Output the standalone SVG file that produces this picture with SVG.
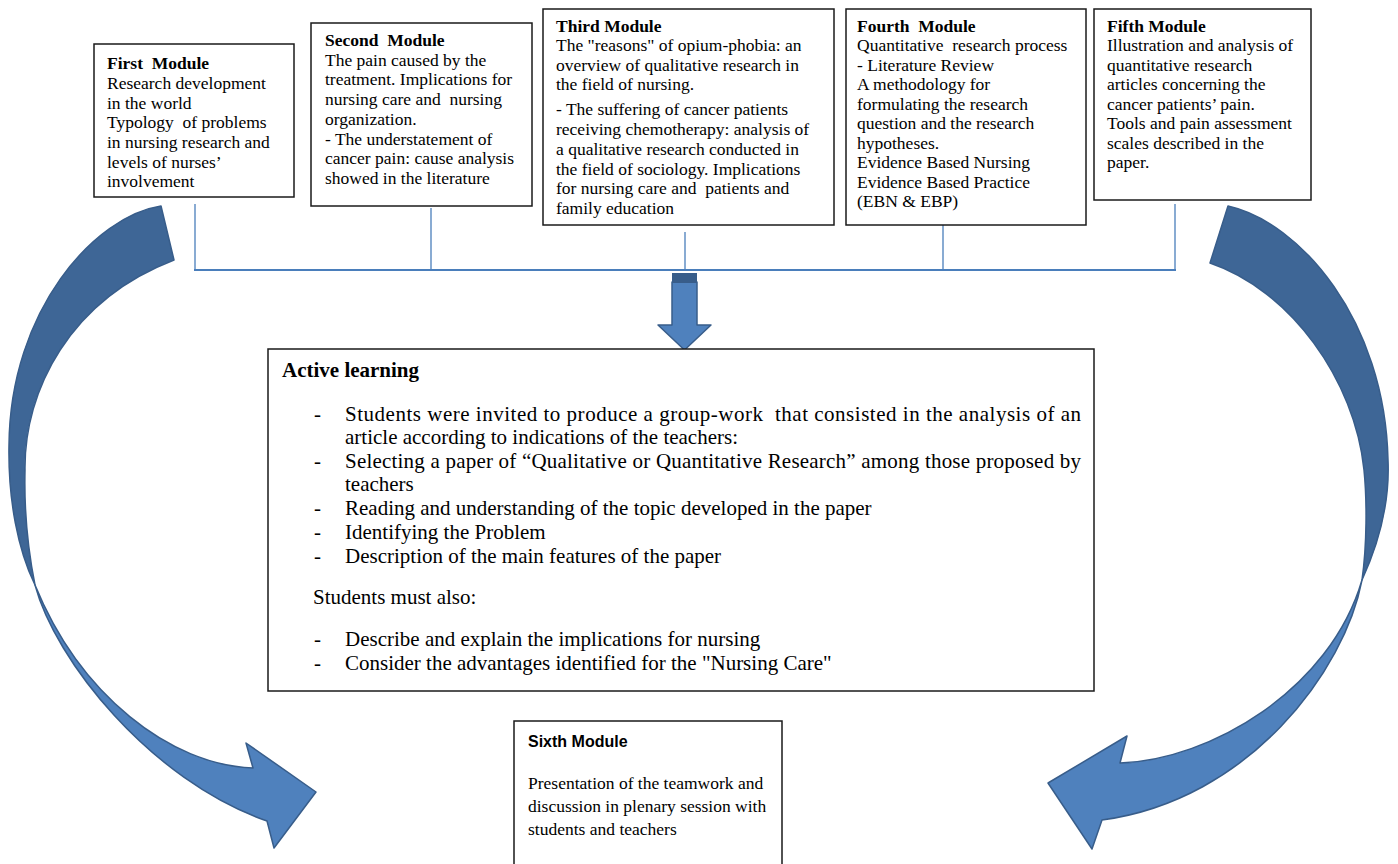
<svg xmlns="http://www.w3.org/2000/svg" width="1398" height="864" viewBox="0 0 1398 864">
<style>
  .box{fill:#fff;stroke:#1a1a1a;stroke-width:1.5}
  .t{font-family:"Liberation Serif","Times New Roman",serif;font-size:17.5px;fill:#000;white-space:pre}
  .b{font-weight:bold}
  .al{font-family:"Liberation Serif","Times New Roman",serif;font-size:21px;fill:#000;white-space:pre}
  .sx{font-family:"Liberation Sans",Arial,sans-serif;font-size:16px;font-weight:bold;fill:#000}
  .ln{stroke:#4a7ebb;stroke-width:1.3;fill:none}
  .dark{fill:#3e6696;stroke:#385d8a;stroke-width:1.5;stroke-linejoin:round}
  .light{fill:#4f81bd;stroke:#385d8a;stroke-width:1.5;stroke-linejoin:round}
</style>
<rect width="1398" height="864" fill="#fff"/>
<g id="connectors">
  <line class="ln" x1="195" y1="204" x2="195" y2="270"/>
  <line class="ln" x1="431" y1="208" x2="431" y2="270"/>
  <line class="ln" x1="685" y1="232" x2="685" y2="270"/>
  <line class="ln" x1="943" y1="204" x2="943" y2="270"/>
  <line class="ln" x1="1175" y1="204" x2="1175" y2="270"/>
  <line class="ln" x1="194" y1="270" x2="1176" y2="270" style="stroke-width:2"/>
  <polygon class="light" points="672,282 697,282 697,325 711,325 684.5,350 658,325 672,325"/>
  <rect x="672" y="273" width="25" height="10" fill="#385d8a"/>
  <g id="left-curved-arrow">
    <path class="dark" d="M161,206 C95,216 10,310 9,445 C8,500 18,550 35,585 C28,550 24,510 25,470 C24,390 70,300 174,260 Z"/>
    <path class="light" d="M35,585 C55,660 150,780 267,821 L274,848 L316,792 L246,743 L253,768 C170,765 80,695 35,585 Z"/>
  </g>
  <g id="right-curved-arrow">
    <path class="dark" d="M1228,206 C1300,222 1385,320 1388,460 C1390,505 1378,545 1362,580 C1367,545 1367,500 1364,470 C1355,380 1290,290 1210,263 Z"/>
    <path class="light" d="M1362,580 C1345,670 1250,800 1102,820 L1092,849 L1048,783 L1127,736 L1120,763 C1210,760 1330,690 1362,580 Z"/>
  </g>
</g>
<g id="first-module">
  <rect class="box" x="94" y="44" width="200" height="153"/>
  <text class="t b" x="107" y="69">First  Module</text>
  <text class="t" x="107" y="89">Research development</text>
  <text class="t" x="107" y="108.5">in the world</text>
  <text class="t" x="107" y="128">Typology  of problems</text>
  <text class="t" x="107" y="148">in nursing research and</text>
  <text class="t" x="107" y="167.5">levels of nurses’</text>
  <text class="t" x="107" y="187">involvement</text>
</g>
<g id="second-module">
  <rect class="box" x="311" y="23" width="221" height="183"/>
  <text class="t b" x="325" y="46">Second  Module</text>
  <text class="t" x="325" y="65.5">The pain caused by the</text>
  <text class="t" x="325" y="85.3">treatment. Implications for</text>
  <text class="t" x="325" y="105">nursing care and  nursing</text>
  <text class="t" x="325" y="124.8">organization.</text>
  <text class="t" x="325" y="144.6">- The understatement of</text>
  <text class="t" x="325" y="164.4">cancer pain: cause analysis</text>
  <text class="t" x="325" y="184.2">showed in the literature</text>
</g>
<g id="third-module">
  <rect class="box" x="543" y="9" width="291" height="216"/>
  <text class="t b" x="556" y="31.7">Third Module</text>
  <text class="t" x="556" y="51">The "reasons" of opium-phobia: an</text>
  <text class="t" x="556" y="70.7">overview of qualitative research in</text>
  <text class="t" x="556" y="90">the field of nursing.</text>
  <text class="t" x="556" y="115">- The suffering of cancer patients</text>
  <text class="t" x="556" y="135">receiving chemotherapy: analysis of</text>
  <text class="t" x="556" y="155">a qualitative research conducted in</text>
  <text class="t" x="556" y="175">the field of sociology. Implications</text>
  <text class="t" x="556" y="194.3">for nursing care and  patients and</text>
  <text class="t" x="556" y="214.3">family education</text>
</g>
<g id="fourth-module">
  <rect class="box" x="846" y="9" width="240" height="216"/>
  <text class="t b" x="857" y="31.7">Fourth  Module</text>
  <text class="t" x="857" y="51">Quantitative  research process</text>
  <text class="t" x="857" y="70.5">- Literature Review</text>
  <text class="t" x="857" y="90">A methodology for</text>
  <text class="t" x="857" y="109.5">formulating the research</text>
  <text class="t" x="857" y="129">question and the research</text>
  <text class="t" x="857" y="148.5">hypotheses.</text>
  <text class="t" x="857" y="168">Evidence Based Nursing</text>
  <text class="t" x="857" y="187.5">Evidence Based Practice</text>
  <text class="t" x="857" y="207">(EBN &amp; EBP)</text>
</g>
<g id="fifth-module">
  <rect class="box" x="1094" y="9" width="217" height="191"/>
  <text class="t b" x="1107" y="31.7">Fifth Module</text>
  <text class="t" x="1107" y="51">Illustration and analysis of</text>
  <text class="t" x="1107" y="70.7">quantitative research</text>
  <text class="t" x="1107" y="90">articles concerning the</text>
  <text class="t" x="1107" y="109.5">cancer patients’ pain.</text>
  <text class="t" x="1107" y="129">Tools and pain assessment</text>
  <text class="t" x="1107" y="148.5">scales described in the</text>
  <text class="t" x="1107" y="168">paper.</text>
</g>
<g id="active-learning">
  <rect class="box" x="268" y="349" width="826" height="342"/>
  <text class="al b" x="282" y="377">Active learning</text>
  <text class="al" x="314" y="421">-</text>
  <text class="al" x="345" y="421" textLength="736" lengthAdjust="spacing">Students were invited to produce a group-work  that consisted in the analysis of an</text>
  <text class="al" x="345" y="444">article according to indications of the teachers:</text>
  <text class="al" x="314" y="468">-</text>
  <text class="al" x="345" y="468" textLength="736" lengthAdjust="spacing">Selecting a paper of “Qualitative or Quantitative Research” among those proposed by</text>
  <text class="al" x="345" y="491">teachers</text>
  <text class="al" x="314" y="515">-</text>
  <text class="al" x="345" y="515">Reading and understanding of the topic developed in the paper</text>
  <text class="al" x="314" y="539">-</text>
  <text class="al" x="345" y="539">Identifying the Problem</text>
  <text class="al" x="314" y="563">-</text>
  <text class="al" x="345" y="563">Description of the main features of the paper</text>
  <text class="al" x="313" y="604">Students must also:</text>
  <text class="al" x="314" y="646">-</text>
  <text class="al" x="345" y="646">Describe and explain the implications for nursing</text>
  <text class="al" x="314" y="670">-</text>
  <text class="al" x="345" y="670">Consider the advantages identified for the "Nursing Care"</text>
</g>
<g id="sixth-module">
  <path class="box" d="M514,880 V721 H782 V880"/>
  <text class="sx" x="528" y="747">Sixth Module</text>
  <text class="t" x="528" y="789">Presentation of the teamwork and</text>
  <text class="t" x="528" y="812">discussion in plenary session with</text>
  <text class="t" x="528" y="835">students and teachers</text>
</g>
</svg>
